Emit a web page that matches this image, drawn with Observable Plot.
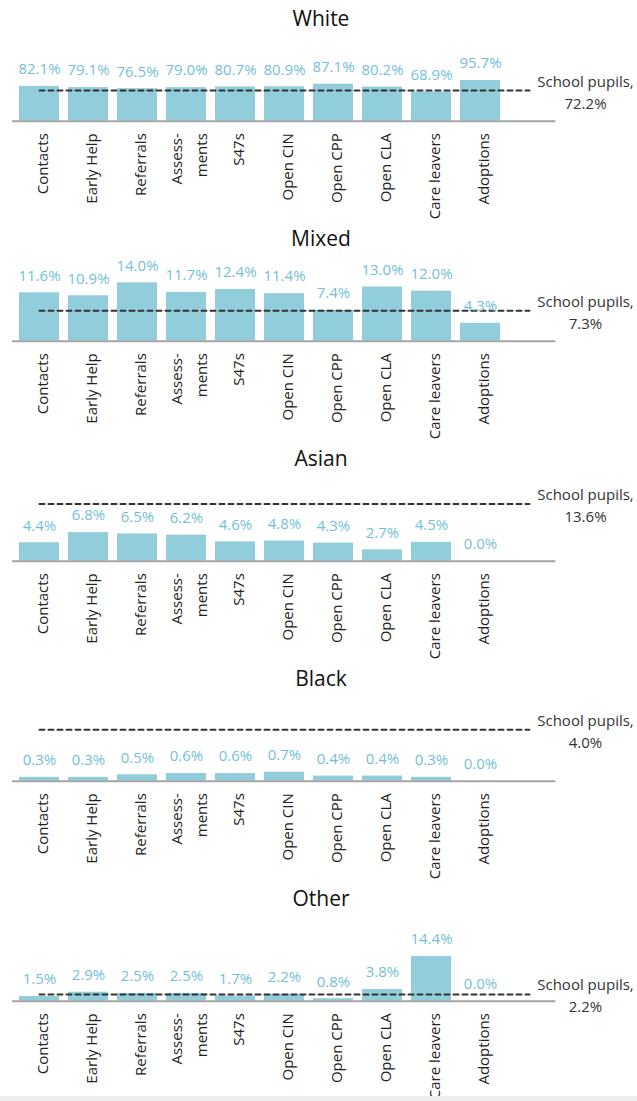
<!DOCTYPE html>
<html>
<head>
<meta charset="utf-8">
<script src="https://cdn.jsdelivr.net/npm/d3@7"></script>
<script src="https://cdn.jsdelivr.net/npm/@observablehq/plot@0.6"></script>
<style>
  html, body { margin: 0; padding: 0; background: #fff; }
  body { width: 637px; height: 1101px; position: relative; overflow: hidden; font-family: "Open Sans", sans-serif; }
  .panel { width: 637px; height: 220px; position: relative; }
  .title { height: 36px; line-height: 36px; font-size: 21px; color: #111; text-align: center; padding-left: 5px; box-sizing: border-box; width: 637px; }
  .strip { position: absolute; left: 0; top: 1096px; width: 637px; height: 5px; background: #eeeeee; }
  svg { display: block; overflow: visible; }
</style>
</head>
<body>
<div id="chart"></div>
<div class="strip"></div>
<script>
// ---- data ----
const categories = ["Contacts", "Early Help", "Referrals", "Assess-\nments", "S47s", "Open CIN", "Open CPP", "Open CLA", "Care leavers", "Adoptions"];
const groups = ["White", "Mixed", "Asian", "Black", "Other"];
const whiteValues = [82.1, 79.1, 76.5, 79.0, 80.7, 80.9, 87.1, 80.2, 68.9, 95.7];
const mixedValues = [11.6, 10.9, 14.0, 11.7, 12.4, 11.4, 7.4, 13.0, 12.0, 4.3];
const asianValues = [4.4, 6.8, 6.5, 6.2, 4.6, 4.8, 4.3, 2.7, 4.5, 0.0];
const blackValues = [0.3, 0.3, 0.5, 0.6, 0.6, 0.7, 0.4, 0.4, 0.3, 0.0];
const otherValues = [1.5, 2.9, 2.5, 2.5, 1.7, 2.2, 0.8, 3.8, 14.4, 0.0];
const schoolPupils = [72.2, 7.3, 13.6, 4.0, 2.2];
const pupilsLabel = "School pupils,";

// ---- layout (not data) ----
const pxPerPct = [0.425, 4.17, 4.2, 12.85, 3.1];
const seriesValues = [whiteValues, mixedValues, asianValues, blackValues, otherValues];

const W = 637, H = 184, base = 84.7;
const barColor = "#92cddc", labelColor = "#74bfd8", textColor = "#222";
const xDomain = [...categories, ""];

const root = document.getElementById("chart");
groups.forEach((g, i) => {
  const panel = document.createElement("div");
  panel.className = "panel";
  const title = document.createElement("div");
  title.className = "title";
  title.textContent = g;
  panel.appendChild(title);

  const rows = categories.map((c, j) => ({c, v: seriesValues[i][j]}));
  const p = schoolPupils[i];
  const k = pxPerPct[i];
  const line = [{c: categories[0], v: p}, {c: "", v: p}];

  const svg = Plot.plot({
    width: W,
    height: H,
    marginLeft: 12,
    marginRight: W - 555.4,
    marginTop: 0,
    marginBottom: 0,
    style: {fontFamily: "Open Sans", background: "transparent", overflow: "visible"},
    x: {type: "band", domain: xDomain, range: [12, 555.4], paddingInner: 0.19, paddingOuter: 0.1, axis: null},
    y: {domain: [0, 100], range: [base, base - k * 100], axis: null},
    marks: [
      Plot.barY(rows, {x: "c", y: "v", fill: barColor}),
      Plot.ruleY([0], {stroke: "#a6a6a6", strokeWidth: 2}),
      Plot.line(line, {x: "c", y: "v", stroke: "#333", strokeWidth: 2, strokeDasharray: "5,4"}),
      Plot.text(rows, {x: "c", y: "v", text: d => d.v.toFixed(1) + "%", dy: -17, fill: labelColor, fontSize: 15}),
      Plot.text(rows, {x: "c", y: () => 0, text: "c", rotate: -90, textAnchor: "end", dy: 12, fill: textColor, fontSize: 15, lineHeight: 1.67}),
      Plot.text([{c: "", v: p}], {x: "c", y: "v", text: d => pupilsLabel + "\n" + d.v.toFixed(1) + "%", dx: 56, fill: "#333", fontSize: 15, lineHeight: 1.47})
    ]
  });
  panel.appendChild(svg);
  root.appendChild(panel);
});
</script>
</body>
</html>
